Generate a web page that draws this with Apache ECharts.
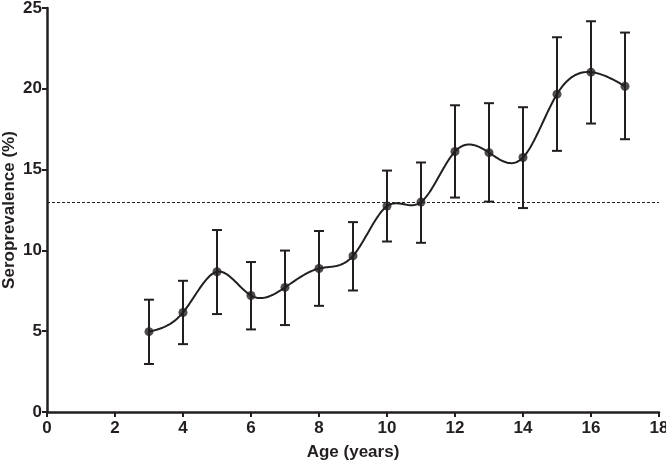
<!DOCTYPE html>
<html>
<head>
<meta charset="utf-8">
<script src="https://cdn.jsdelivr.net/npm/echarts@6/dist/echarts.min.js"></script>
<style>html,body{margin:0;padding:0;background:#fff}#c{width:666px;height:463px}</style>
</head>
<body>
<div id="c"></div>
<script>
var ages = [3, 4, 5, 6, 7, 8, 9, 10, 11, 12, 13, 14, 15, 16, 17];
var prevalence = [4.97, 6.16, 8.68, 7.21, 7.71, 8.88, 9.66, 12.74, 12.99, 16.12, 16.05, 15.75, 19.67, 21.03, 20.16];
var upper = [6.95, 8.12, 11.26, 9.28, 9.99, 11.2, 11.75, 14.94, 15.44, 18.98, 19.11, 18.86, 23.19, 24.18, 23.48];
var lower = [2.97, 4.2, 6.06, 5.11, 5.38, 6.57, 7.52, 10.55, 10.47, 13.27, 13.02, 12.62, 16.16, 17.85, 16.88];
var referenceLevel = 13;
var xTicks = [0, 18, 2];
var yTicks = [0, 25, 5];

var ink = '#231f20';
var font = 'Liberation Sans';

var errData = ages.map(function (a, i) { return [a, lower[i], upper[i]]; });
var pointData = ages.map(function (a, i) { return [a, prevalence[i]]; });

// natural cubic spline second derivatives (rendering helper)
function splineM(xs, ys) {
  var n = xs.length, m = new Array(n).fill(0);
  if (n < 3) return m;
  var a = [], b = [], c = [], d = [];
  for (var i = 1; i < n - 1; i++) {
    var h0 = xs[i] - xs[i - 1], h1 = xs[i + 1] - xs[i];
    a.push(h0); b.push(2 * (h0 + h1)); c.push(h1);
    d.push(6 * ((ys[i + 1] - ys[i]) / h1 - (ys[i] - ys[i - 1]) / h0));
  }
  var k = b.length;
  for (var j = 1; j < k; j++) {
    var w = a[j] / b[j - 1];
    b[j] -= w * c[j - 1];
    d[j] -= w * d[j - 1];
  }
  var sol = new Array(k);
  sol[k - 1] = d[k - 1] / b[k - 1];
  for (var j2 = k - 2; j2 >= 0; j2--) sol[j2] = (d[j2] - c[j2] * sol[j2 + 1]) / b[j2];
  for (var t = 0; t < k; t++) m[t + 1] = sol[t];
  return m;
}
var M = splineM(ages, prevalence);

var chart = echarts.init(document.getElementById('c'));
chart.setOption({
  animation: false,
  backgroundColor: '#fff',
  grid: { left: 47, right: 7, top: 8, bottom: 51, containLabel: false, outerBoundsMode: 'none' },
  xAxis: {
    type: 'value', min: xTicks[0], max: xTicks[1], interval: xTicks[2],
    name: 'Age (years)', nameLocation: 'middle', nameGap: 32, nameMoveOverlap: false,
    nameTextStyle: { fontFamily: font, fontWeight: 'bold', fontSize: 17, color: ink },
    axisLine: { lineStyle: { color: ink, width: 2.5 } },
    axisTick: { show: true, length: 5, lineStyle: { color: ink, width: 2 } },
    axisLabel: { fontFamily: font, fontWeight: 'bold', fontSize: 17, color: ink, margin: 8 },
    splitLine: { show: false }
  },
  yAxis: {
    type: 'value', min: yTicks[0], max: yTicks[1], interval: yTicks[2],
    name: 'Seroprevalence (%)', nameLocation: 'middle', nameGap: 29, nameMoveOverlap: false,
    nameTextStyle: { fontFamily: font, fontWeight: 'bold', fontSize: 17, color: ink },
    axisLine: { show: true, lineStyle: { color: ink, width: 2.5 } },
    axisTick: { show: true, length: 5, lineStyle: { color: ink, width: 2 } },
    axisLabel: { fontFamily: font, fontWeight: 'bold', fontSize: 17, color: ink, margin: 5 },
    splitLine: { show: false }
  },
  series: [
    {
      type: 'custom',
      data: errData,
      z: 3,
      renderItem: function (params, api) {
        var x = api.value(0);
        var lo = api.coord([x, api.value(1)]);
        var hi = api.coord([x, api.value(2)]);
        var hw = 5;
        var st = { stroke: ink, lineWidth: 2, fill: null };
        return {
          type: 'group',
          children: [
            { type: 'line', shape: { x1: hi[0], y1: hi[1], x2: lo[0], y2: lo[1] }, style: st },
            { type: 'line', shape: { x1: hi[0] - hw, y1: hi[1], x2: hi[0] + hw, y2: hi[1] }, style: st },
            { type: 'line', shape: { x1: lo[0] - hw, y1: lo[1], x2: lo[0] + hw, y2: lo[1] }, style: st }
          ]
        };
      }
    },
    {
      // smooth spline curve through the points, drawn via the axis scales
      type: 'custom',
      data: pointData,
      z: 4,
      renderItem: function (params, api) {
        if (params.dataIndex !== 0) return null;
        var pts = [];
        for (var i = 0; i < ages.length - 1; i++) {
          var x0 = ages[i], x1 = ages[i + 1], h = x1 - x0;
          var y0 = prevalence[i], y1 = prevalence[i + 1];
          for (var s = 0; s <= 24; s++) {
            if (i > 0 && s === 0) continue;
            var t = s / 24, x = x0 + t * h;
            var A = (x1 - x) / h, B = (x - x0) / h;
            var y = A * y0 + B * y1 + ((A * A * A - A) * M[i] + (B * B * B - B) * M[i + 1]) * h * h / 6;
            pts.push(api.coord([x, y]));
          }
        }
        return { type: 'polyline', shape: { points: pts }, style: { stroke: ink, lineWidth: 2, fill: null } };
      }
    },
    {
      type: 'scatter',
      data: pointData,
      z: 5,
      symbol: 'circle',
      symbolSize: 9,
      itemStyle: { color: ink },
      markLine: {
        silent: true,
        symbol: 'none',
        label: { show: false },
        lineStyle: { color: ink, type: [3, 2], width: 1 },
        data: [[{ coord: [xTicks[0], referenceLevel] }, { coord: [xTicks[1], referenceLevel] }]]
      }
    }
  ]
});
</script>
</body>
</html>
